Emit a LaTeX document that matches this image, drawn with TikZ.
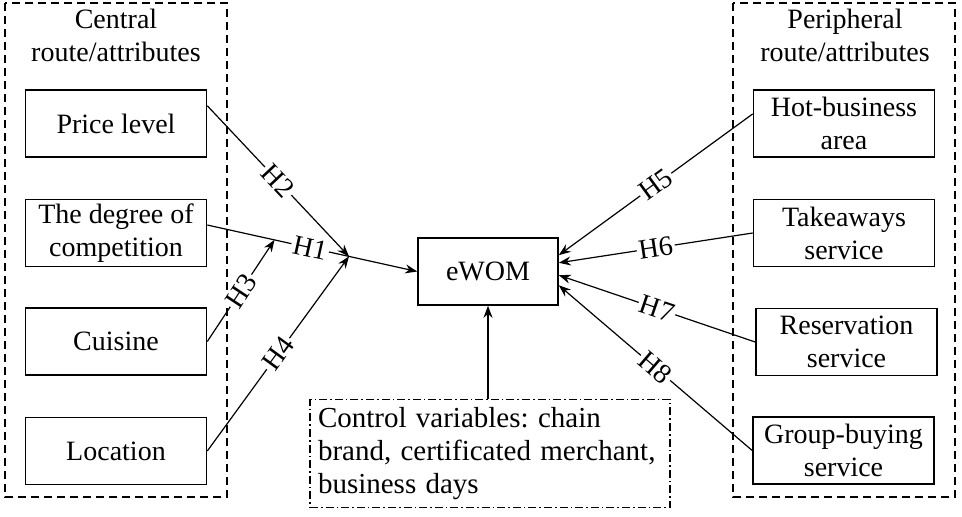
\documentclass[tikz,border=0pt]{standalone}
\usepackage{fontspec}
\setmainfont{Liberation Serif}
\usepackage{tikz}
\usetikzlibrary{arrows.meta}
\frenchspacing

\begin{document}
\begin{tikzpicture}[x=0.5pt,y=-0.5pt,font=\rmfamily\fontsize{14}{16.5}\selectfont,
    attr/.style={draw, line width=0.8pt, minimum width=90.5pt, minimum height=33.5pt, align=center, inner sep=1pt},
    frame/.style={line width=0.6pt, dash pattern=on 4pt off 2.5pt},
    hyp/.style={sloped, fill=white, inner sep=1pt},
    arr/.style={line width=0.6pt, -{Stealth[length=6pt,width=4.5pt]}}]
    \useasboundingbox (0,0) rectangle (962,516);

    %route frames
    \draw[frame] (5,3) rectangle (227,497);
    \draw[frame] (733,3) rectangle (955,497);
    \node[align=center] (ctitle) at (116,35) {Central\\route/attributes};
    \node[align=center] (ptitle) at (845,35) {Peripheral\\route/attributes};

    %central attributes
    \node[attr] (price) at (116,123.5) {Price level};
    \node[attr] (comp) at (116,233) {The degree of\\competition};
    \node[attr] (cuisine) at (116,341.5) {Cuisine};
    \node[attr] (loc) at (116,451) {Location};

    %peripheral attributes
    \node[attr] (hot) at (844,123.5) {Hot-business\\area};
    \node[attr] (take) at (844,233) {Takeaways\\service};
    \node[attr] (reserv) at (846.5,342) {Reservation\\service};
    \node[attr] (group) at (843.5,450.5) {Group-buying\\service};

    %outcome and controls
    \node[attr, minimum width=70pt] (ewom) at (488,271.5) {eWOM};
    \node[draw, line width=0.6pt, dash pattern=on 4pt off 1.5pt on 0.8pt off 1.5pt,
          text width=172pt, align=left, inner sep=4pt, minimum height=51.5pt] (ctrl) at (490,453.5)
          {\fontsize{14.5}{17}\selectfont Control variables: chain brand, certificated merchant, business days};

    \path[draw,arr] (comp.5) -- coordinate[pos=0.32] (h1b) coordinate[pos=0.675] (h1a)
        node[hyp, pos=0.49] {H1} (ewom.west);
    \path[draw,arr] (price.11) -- node[hyp] {H2} (h1a);
    \path[draw,arr] (cuisine.east) -- node[hyp] {H3} (h1b);
    \path[draw,arr] (loc.east) -- node[hyp] {H4} (h1a);

    \path[draw,arr] (hot.174.5) -- node[hyp] {H5} (ewom.13);
    \path[draw,arr] (take.west) -- node[hyp] {H6} (ewom.7);
    \path[draw,arr] (reserv.west) -- node[hyp] {H7} (ewom.-3);
    \path[draw,arr] (group.west) -- node[hyp] {H8} (ewom.-11);

    \path[draw,arr] (ctrl.north -| ewom.south) -- (ewom.south);
  \end{tikzpicture}
\end{document}
